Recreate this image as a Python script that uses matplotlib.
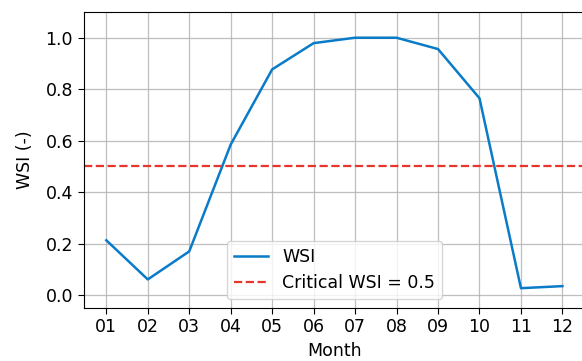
import matplotlib
matplotlib.use("Agg")
import matplotlib.pyplot as plt

months = ["01", "02", "03", "04", "05", "06", "07", "08", "09", "10", "11", "12"]
wsi = [0.213, 0.061, 0.170, 0.585, 0.877, 0.979, 1.0, 1.0, 0.956, 0.765, 0.027, 0.035]
critical_wsi = 0.5

plt.rcParams["font.size"] = 12.5

fig = plt.figure(figsize=(5.82, 3.61), dpi=100)
ax = fig.add_axes([0.1435, 0.1468, 0.862, 0.82])

ax.plot(months, wsi, color="#0a7bc8", linewidth=1.8, label="WSI")
ax.axhline(critical_wsi, color="#e8352b", linestyle="--", linewidth=1.6,
           label=f"Critical WSI = {critical_wsi}")

ax.set_ylim(-0.05, 1.1)
ax.set_xlabel("Month", labelpad=4)
ax.set_ylabel("WSI (-)", labelpad=8)
ax.tick_params(length=4)
ax.grid(True, color="#b0b0b0", linewidth=0.9, alpha=0.8)
ax.legend(loc="lower center")

fig.savefig("out.png", dpi=100)
